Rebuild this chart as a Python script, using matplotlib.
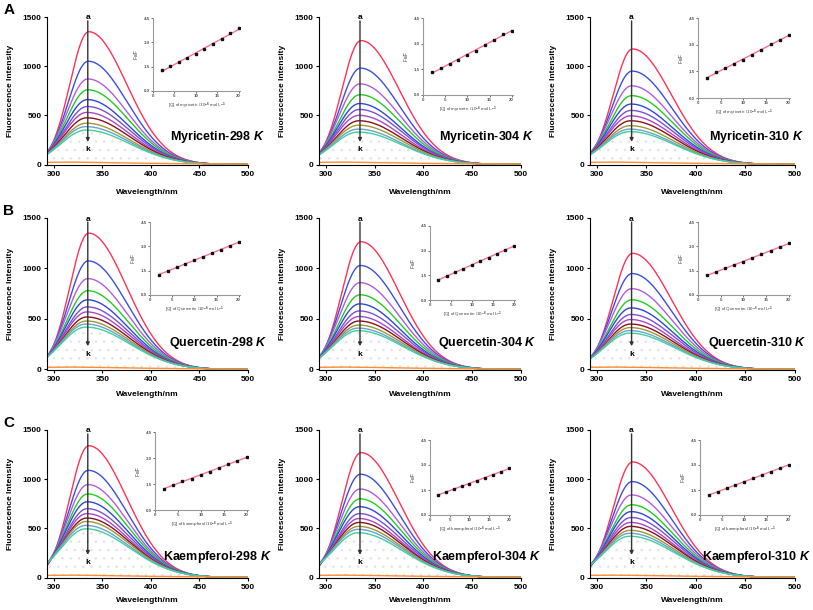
import numpy as np
import matplotlib
matplotlib.use("Agg")
import matplotlib.pyplot as plt

plt.rcParams['font.family'] = ['Liberation Sans', 'DejaVu Sans']
plt.rcParams['font.weight'] = 'bold'
plt.rcParams['mathtext.fontset'] = 'custom'
plt.rcParams['mathtext.it'] = 'Liberation Sans:italic:bold'
plt.rcParams['mathtext.rm'] = 'Liberation Sans:bold'
plt.rcParams['hatch.linewidth'] = 0.6

# ---------------- data ----------------
compounds = ["Myricetin", "Quercetin", "Kaempferol"]
inset_names = ["myricetin", "Quercetin", "kaempferol"]
temps = ["298", "304", "310"]
panel_letters = ["A", "B", "C"]

# peak fluorescence intensity of curves a..k, per panel (row, col)
peaks_A1 = [1350, 1050, 870, 760, 660, 590, 530, 475, 420, 385, 350]
peaks_A2 = [1260, 980, 820, 710, 620, 560, 500, 445, 400, 360, 330]
peaks_A3 = [1175, 950, 800, 700, 615, 550, 495, 445, 395, 360, 335]
peaks_B1 = [1350, 1075, 900, 780, 690, 620, 570, 520, 480, 450, 420]
peaks_B2 = [1265, 1030, 860, 740, 650, 580, 525, 480, 440, 410, 385]
peaks_B3 = [1150, 950, 800, 690, 610, 545, 495, 450, 415, 385, 360]
peaks_C1 = [1340, 1090, 945, 850, 770, 700, 650, 605, 570, 530, 495]
peaks_C2 = [1270, 1050, 900, 800, 720, 650, 600, 560, 520, 490, 455]
peaks_C3 = [1175, 975, 840, 740, 670, 610, 560, 520, 480, 450, 420]
peaks = [[peaks_A1, peaks_A2, peaks_A3],
         [peaks_B1, peaks_B2, peaks_B3],
         [peaks_C1, peaks_C2, peaks_C3]]

# peak position and left / right band widths (nm) of curves a..k
peak_wl = [336, 335.5, 335, 335, 334.5, 334.5, 334, 334, 333.5, 333, 333]
width_left = [19.5, 20.5, 21.5, 22, 22.5, 23, 23.5, 24, 24.5, 25, 25.5]
width_right = [39, 40, 41, 41.5, 42, 42.5, 43, 43.5, 44, 44.5, 45]

# orange baseline (quencher alone)
base_wl = [293, 320, 350, 400, 450, 500]
base_int = [22, 24, 20, 12, 7, 5]

# Stern-Volmer insets: [Q] (10^-6 mol/L) and F0/F
conc = [2, 4, 6, 8, 10, 12, 14, 16, 18, 20]
sv_A1 = [1.27, 1.53, 1.78, 2.03, 2.28, 2.57, 2.88, 3.19, 3.55, 3.90]
sv_A2 = [1.33, 1.58, 1.84, 2.05, 2.31, 2.60, 2.90, 3.23, 3.56, 3.76]
sv_A3 = [1.15, 1.47, 1.68, 1.91, 2.15, 2.40, 2.68, 3.04, 3.27, 3.55]
sv_B1 = [1.26, 1.48, 1.70, 1.92, 2.14, 2.36, 2.58, 2.80, 3.02, 3.28]
sv_B2 = [1.24, 1.46, 1.68, 1.90, 2.12, 2.35, 2.58, 2.82, 3.05, 3.30]
sv_B3 = [1.22, 1.43, 1.64, 1.85, 2.06, 2.28, 2.50, 2.72, 2.95, 3.20]
sv_C1 = [1.23, 1.44, 1.67, 1.80, 2.03, 2.22, 2.43, 2.66, 2.84, 3.03]
sv_C2 = [1.21, 1.38, 1.55, 1.72, 1.89, 2.06, 2.23, 2.42, 2.60, 2.80]
sv_C3 = [1.20, 1.40, 1.60, 1.80, 2.00, 2.20, 2.40, 2.60, 2.80, 3.02]
sv = [[sv_A1, sv_A2, sv_A3], [sv_B1, sv_B2, sv_B3], [sv_C1, sv_C2, sv_C3]]

colors = ['#ff3355', '#3b4fe0', '#b45ce0', '#22cc22', '#2c48d8', '#7a50d8',
          '#a848c8', '#8b1020', '#9c9a30', '#6f9fcf', '#3fd0a0']

# ---------------- layout (pixels) ----------------
W, H = 813, 610
fig = plt.figure(figsize=(W / 100, H / 100), dpi=100)

def px_axes(l, t, r, b):
    return fig.add_axes([l / W, 1 - b / H, (r - l) / W, (b - t) / H])

cols = [(47, 248), (319, 521), (590, 795)]
rows = [(17, 165), (218, 370), (430, 578)]
insets = [[(153, 18, 240, 91), (423, 18, 513, 95), (698, 18, 790, 98)],
          [(150, 222, 240, 295), (430, 226, 515, 300), (698, 222, 790, 295)],
          [(155, 432, 248, 510), (430, 440, 510, 515), (700, 440, 790, 515)]]
label_y = [0.19, 0.18, 0.14]
label_cx = [218, 487, 757]
xlabel_pad = [8, 6, 5]

wl = np.arange(293, 500.5, 0.5)

for r in range(3):
    for c in range(3):
        l, rr = cols[c]
        t, b = rows[r]
        ax = px_axes(l, t, rr, b)
        curves = []
        for i in range(11):
            lp, sl, sr = peak_wl[i], width_left[i], width_right[i]
            s = np.where(wl < lp, sl, sr)
            y = peaks[r][c][i] * np.exp(-(wl - lp) ** 2 / (2 * s ** 2))
            curves.append(y)
        ax.fill_between(wl, 0, curves[-1], facecolor='none', edgecolor='#e4e4e4',
                        hatch='..', linewidth=0)
        for i in range(11):
            ax.plot(wl, curves[i], color=colors[i], lw=1.0)
        ax.plot(base_wl, base_int, color='#ff8c30', lw=1.0)
        ax.set_xlim(293, 500)
        ax.set_ylim(-5, 1500)
        ax.set_xticks([300, 350, 400, 450, 500])
        ax.set_yticks([0, 500, 1000, 1500])
        for sp in ['top', 'right']:
            ax.spines[sp].set_visible(False)
        for sp in ['left', 'bottom']:
            ax.spines[sp].set_linewidth(0.8)
        ax.tick_params(labelsize=6, length=2.5, width=0.8, pad=1.5)
        ax.set_xlabel('Wavelength/nm', fontsize=6, fontweight='bold',
                      labelpad=xlabel_pad[r])
        ax.set_ylabel('Fluorescence Intensity', fontsize=6, fontweight='bold', labelpad=6)
        # arrow a -> k
        ax.annotate('', xy=(335, 230), xytext=(335, 1460),
                    arrowprops=dict(arrowstyle='-|>', color='#333333', lw=1.0,
                                    mutation_scale=5, shrinkA=0, shrinkB=0))
        ax.text(335, 1490, 'a', ha='center', va='center', fontsize=6)
        ax.text(335, 150, 'k', ha='center', va='center', fontsize=6)
        fig.text(label_cx[c] / W, 1 - (b - label_y[r] * (b - t)) / H,
                 f'{compounds[r]}-{temps[c]} $K$',
                 ha='center', va='center', fontsize=9.0)
        if c == 0:
            fig.text(9 / W, 1 - (t - 7) / H, panel_letters[r], fontsize=11,
                     fontweight='bold', ha='center', va='center')

        # inset
        il, it, ir, ib = insets[r][c]
        ia = px_axes(il, it, ir, ib)
        fit = np.polyfit(conc, sv[r][c], 1)
        xs = np.array([conc[0], conc[-1]])
        ia.plot(xs, np.polyval(fit, xs), color='#ff6f8f', lw=1.0)
        ia.plot(conc, sv[r][c], 's', color='#111111', ms=1.6)
        ia.set_xlim(0, 20.3)
        ia.set_ylim(0, 4.5)
        ia.set_xticks([0, 5, 10, 15, 20])
        ia.set_yticks([0, 1.5, 3.0, 4.5])
        ia.set_yticklabels(['0.0', '1.5', '3.0', '4.5'])
        for sp in ['top', 'right']:
            ia.spines[sp].set_visible(False)
        for sp in ['left', 'bottom']:
            ia.spines[sp].set_color('#9a9a9a')
            ia.spines[sp].set_linewidth(0.8)
        ia.tick_params(labelsize=3.2, length=1.5, width=0.6, pad=1,
                       colors='#555555')
        ia.set_xlabel(f'[Q] of {inset_names[r]} /10$^{{-6}}$ mol L$^{{-1}}$',
                      fontsize=3.2, color='#444444', labelpad=1.5,
                      fontweight='normal')
        ia.set_ylabel('F$_0$/F', fontsize=3.5, color='#444444', labelpad=2)
        ia.patch.set_alpha(0)

fig.savefig('out.png', dpi=100)
